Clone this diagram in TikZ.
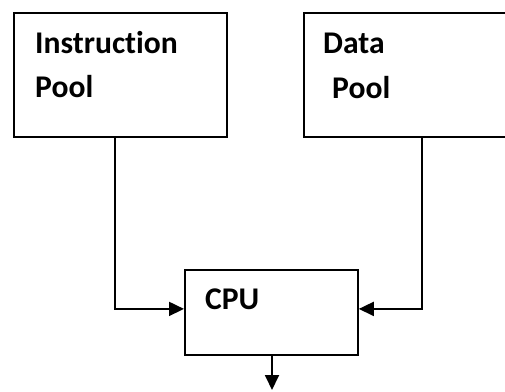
\documentclass[tikz,border=0pt]{standalone}
\usepackage{fontspec}
\setmainfont[Ligatures=NoCommon]{Carlito}
\usetikzlibrary{arrows.meta}
\begin{document}
\begin{tikzpicture}[x=1pt,y=-1pt,
  box/.style={draw=black,line width=1.8pt,rectangle,inner sep=0pt,anchor=north west},
  lbl/.style={anchor=base west,inner sep=0pt,font=\fontsize{31.6}{38}\selectfont\bfseries},
  conn/.style={draw=black,line width=1.8pt,-{Triangle[length=15pt,width=14pt]}}]
\useasboundingbox (0,0) rectangle (505,391);
\node[box,minimum width=213pt,minimum height=124pt] (ip) at (13,12) {};
\node[box,minimum width=207pt,minimum height=124pt] (dp) at (303,12) {};
\node[box,minimum width=173pt,minimum height=85pt] (cpu) at (184,269) {};
\node[lbl] (t1) at (35,53) {Instruction};
\node[lbl] (t2) at (35,97.5) {Pool};
\node[lbl] (t3) at (323,53) {Data};
\node[lbl] (t4) at (332,98) {Pool};
\node[lbl] (t5) at (205,309) {CPU};
\coordinate (out) at (272,390);
\draw[conn] ([xshift=-5.5pt]ip.south) |- ([yshift=3.5pt]cpu.west);
\draw[conn] ([xshift=14.5pt]dp.south) |- ([yshift=3.5pt]cpu.east);
\draw[conn] (cpu.south -| out) -- (out);
\end{tikzpicture}
\end{document}
